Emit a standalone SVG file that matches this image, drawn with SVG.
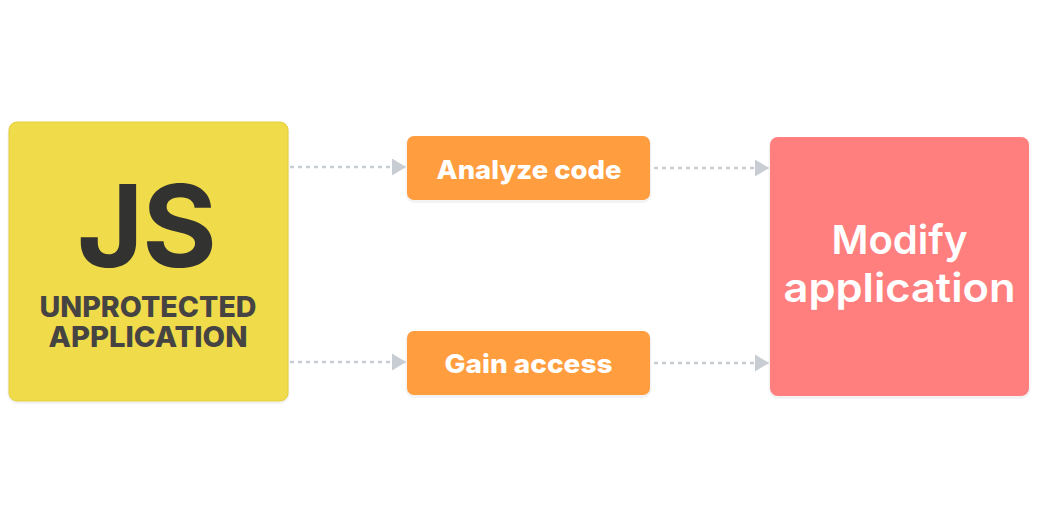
<svg xmlns="http://www.w3.org/2000/svg" width="1037" height="520" viewBox="0 0 1037 520">
<style>
.t{font-family:"Inter","Noto Sans","Liberation Sans",sans-serif;font-weight:700;text-anchor:middle}
.c{stroke:#c8cdd3;stroke-width:2.6;stroke-dasharray:4 4;fill:none;marker-end:url(#a)}
.h{fill:#f3f3f5}
.w{fill:#fff;font-weight:800}
.d{fill:#464443;font-weight:800}
</style>
<defs><marker id="a" markerUnits="userSpaceOnUse" markerWidth="15" markerHeight="18" refX="14" refY="9" orient="auto"><path d="M0 0.5L14 9L0 17.5Z" fill="#c8cdd3"/></marker></defs>
<rect width="1037" height="520" fill="#fff"/>
<g id="connectors">
<path class="c" d="M290 167H406"/>
<path class="c" d="M290 362H406"/>
<path class="c" d="M654 168H769"/>
<path class="c" d="M654 363H769"/>
</g>
<g id="js"><rect class="h" x="7.5" y="122" width="282" height="282" rx="10"/><rect x="9" y="122" width="279" height="279" rx="8" fill="#f0db4a" stroke="#e3cf3f"/>
<text class="t" x="147" y="267" font-size="114" fill="#323330" textLength="140" lengthAdjust="spacing">JS</text>
<text class="t d" x="148" y="317" font-size="28.5" textLength="217" lengthAdjust="spacingAndGlyphs">UNPROTECTED</text>
<text class="t d" x="148" y="347" font-size="28.5" textLength="199" lengthAdjust="spacingAndGlyphs">APPLICATION</text></g>
<g id="analyze"><rect class="h" x="405.5" y="136" width="246" height="67" rx="9"/><rect x="407" y="136" width="243" height="64" rx="7" fill="#ff9d3f"/><text class="t w" x="529" y="179" font-size="26" textLength="185" lengthAdjust="spacingAndGlyphs">Analyze code</text></g>
<g id="gain"><rect class="h" x="405.5" y="331" width="246" height="67" rx="9"/><rect x="407" y="331" width="243" height="64" rx="7" fill="#ff9d3f"/><text class="t w" x="528.5" y="373" font-size="26" textLength="168" lengthAdjust="spacingAndGlyphs">Gain access</text></g>
<g id="modify"><rect class="h" x="768.5" y="137" width="262" height="262" rx="10"/><rect x="770" y="137" width="259" height="259" rx="8" fill="#ff7f7f"/>
<text class="t" x="899.5" y="254" font-size="40" fill="#fff" style="font-weight:600" textLength="136" lengthAdjust="spacingAndGlyphs">Modify</text>
<text class="t" x="899.5" y="302" font-size="40" fill="#fff" style="font-weight:600" textLength="232" lengthAdjust="spacingAndGlyphs">application</text></g>
</svg>
